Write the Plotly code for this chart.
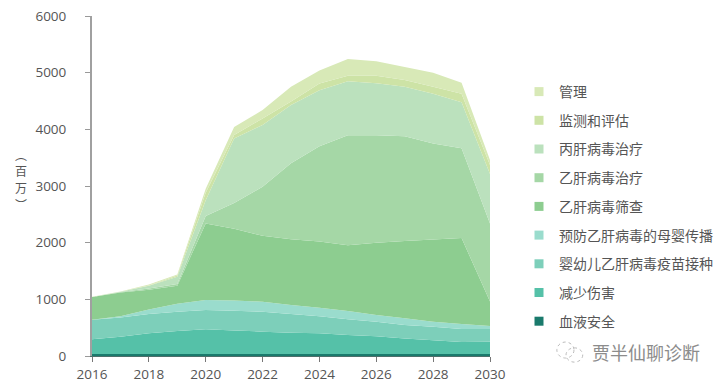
import plotly.graph_objects as go

years = list(range(2016, 2031))
blood = [35, 35, 35, 35, 35, 35, 35, 35, 35, 35, 35, 35, 35, 35, 35]
harm = [260, 305, 365, 405, 435, 415, 395, 375, 365, 335, 315, 275, 245, 210, 215]
vaccine = [345, 340, 340, 340, 340, 350, 350, 331, 300, 280, 256, 235, 238, 232, 227]
mtct = [0, 20, 80, 140, 180, 180, 178, 159, 153, 144, 117, 120, 88, 88, 53]
screening = [400, 420, 350, 320, 1350, 1265, 1162, 1160, 1167, 1161, 1275, 1365, 1452, 1517, 430]
hbv_treat = [0, 10, 20, 30, 130, 455, 867, 1340, 1680, 1940, 1897, 1850, 1692, 1583, 1380]
hcv_treat = [0, 5, 50, 130, 280, 1140, 1091, 1030, 990, 955, 917, 870, 880, 811, 872]
monitoring = [0, 0, 5, 20, 130, 60, 112, 60, 120, 95, 133, 120, 120, 154, 158]
management = [5, 5, 15, 20, 70, 140, 150, 260, 230, 295, 255, 230, 250, 190, 90]
y_title = ["︵", "百", "万", "︶"]

series = [
    ("血液安全", blood, "#1a7a6c"),
    ("减少伤害", harm, "#55c1a8"),
    ("婴幼儿乙肝病毒疫苗接种", vaccine, "#7dcfba"),
    ("预防乙肝病毒的母婴传播", mtct, "#9adccd"),
    ("乙肝病毒筛查", screening, "#8dcd90"),
    ("乙肝病毒治疗", hbv_treat, "#a5d7a6"),
    ("丙肝病毒治疗", hcv_treat, "#bbe1bd"),
    ("监测和评估", monitoring, "#cde3a6"),
    ("管理", management, "#d8e9b7"),
]

TEXT = "#555555"
fig = go.Figure()
for name, vals, color in series:
    fig.add_trace(go.Scatter(x=years, y=vals, name=name, stackgroup="one", mode="none",
                             fillcolor=color, showlegend=False))
for name, vals, color in reversed(series):
    fig.add_trace(go.Scatter(x=[None], y=[None], name=name, mode="markers", legendgroup=name,
                             marker=dict(symbol="square", size=9, color=color)))

title_notes = [
    dict(text=ch, xref="paper", yref="paper", x=-0.198, y=(356 - (154 + i * 16.8)) / 340,
         showarrow=False, font=dict(family="Noto Sans CJK SC", size=12, color=TEXT))
    for i, ch in enumerate(y_title)
]

fig.update_layout(
    width=721, height=383, autosize=False,
    margin=dict(l=92, r=231, t=16, b=27, autoexpand=False),
    plot_bgcolor="white", paper_bgcolor="white",
    font=dict(family="Open Sans, Noto Sans CJK SC", size=13.5, color=TEXT),
    showlegend=True,
    legend=dict(xref="container", yref="container", x=519 / 721, xanchor="left",
                y=1 - 76 / 383, yanchor="top", tracegroupgap=7.5, maxheight=300,
                font=dict(family="Noto Sans CJK SC", size=14, color=TEXT),
                bgcolor="rgba(0,0,0,0)", itemclick=False),
    xaxis=dict(range=[2016, 2030], dtick=2, tick0=2016, showgrid=False, zeroline=False,
               ticks="outside", ticklen=5, tickcolor="#777", tickformat="d", automargin=False,
               showline=True, linecolor="#4d6f6a", linewidth=1, ticklabelstandoff=1),
    yaxis=dict(range=[0, 6000], dtick=1000, showgrid=False, zeroline=False, tickformat="d",
               ticks="outside", ticklen=5, tickcolor="#999", automargin=False,
               showline=True, linecolor="#a0a0a0", linewidth=2, ticklabelstandoff=16),
    annotations=title_notes + [
        dict(text="贾半仙聊诊断", xref="paper", yref="paper", x=1.251, y=0.012, xanchor="left",
             yanchor="middle", showarrow=False,
             font=dict(family="Noto Sans CJK SC", size=18, color="#8c8c8c")),
    ],
    shapes=[
        dict(type="circle", xref="paper", yref="paper", x0=1.168, x1=1.211, y0=-0.006, y1=0.041,
             line=dict(color="#bbbbbb", width=1, dash="dot")),
        dict(type="circle", xref="paper", yref="paper", x0=1.191, x1=1.233, y0=-0.018, y1=0.024,
             line=dict(color="#bbbbbb", width=1, dash="dot")),
    ],
)
fig.write_html("out.html", config={"displayModeBar": False},
               post_script="document.body.style.margin='0';")
